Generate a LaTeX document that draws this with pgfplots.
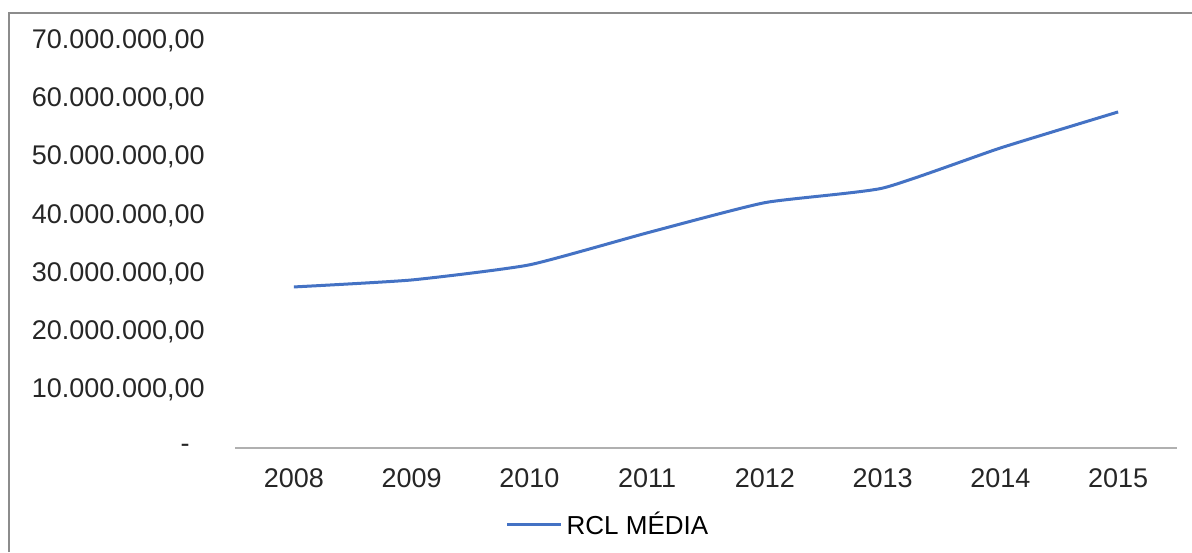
\documentclass[border=0pt]{standalone}
\usepackage{fontspec}
\setmainfont{Liberation Sans}
\usepackage{pgfplots}
\pgfplotsset{compat=1.18}
\definecolor{rclblue}{HTML}{4472C4}
\definecolor{framegray}{HTML}{8C8C8C}
\definecolor{axisgray}{HTML}{B0B0B0}
\begin{document}
\begin{tikzpicture}
\path[use as bounding box] (0,0) rectangle (596pt,276pt);
\fill[white] (0,0) rectangle (596pt,276pt);
\draw[framegray, line width=1pt] (4.5pt,0) -- (4.5pt,269.5pt) -- (596pt,269.5pt);
\begin{axis}[
  at={(117.5pt,52pt)}, anchor=south west,
  scale only axis, width=471pt, height=203.5pt,
  xmin=-0.5, xmax=7.5, ymin=0, ymax=70000000,
  axis line style={draw=none},
  major tick length=0pt,
  xtick={0,1,2,3,4,5,6,7},
  xticklabels={2008,2009,2010,2011,2012,2013,2014,2015},
  ytick={0,10000000,20000000,30000000,40000000,50000000,60000000,70000000},
  yticklabels={{\makebox[12pt][l]{-}},{10.000.000,00},{20.000.000,00},{30.000.000,00},{40.000.000,00},{50.000.000,00},{60.000.000,00},{70.000.000,00}},
  ticklabel style={font=\fontsize{13.5}{16}\selectfont, text=black!85},
  yticklabel style={anchor=east, inner sep=0pt, xshift=-15pt},
  xticklabel style={anchor=north, inner sep=0pt, yshift=-10pt},
  scaled y ticks=false,
  clip=false,
  legend style={at={(axis description cs:0.397,-0.189)}, anchor=center, draw=none, fill=none,
    font=\fontsize{13}{16}\selectfont, inner sep=0pt},
  legend image code/.code={\draw[#1] (0pt,0pt) -- (27pt,0pt);},
]
\draw[axisgray, line width=0.75pt] (axis cs:-0.5,0) -- (axis cs:7.5,0);
\addplot[rclblue, line width=1.5pt, smooth, tension=0.3] coordinates {
  (0,27700000) (1,28900000) (2,31500000) (3,37000000)
  (4,42200000) (5,44700000) (6,51600000) (7,57800000)
};
\addlegendentry{RCL MÉDIA}
\end{axis}
\end{tikzpicture}
\end{document}
